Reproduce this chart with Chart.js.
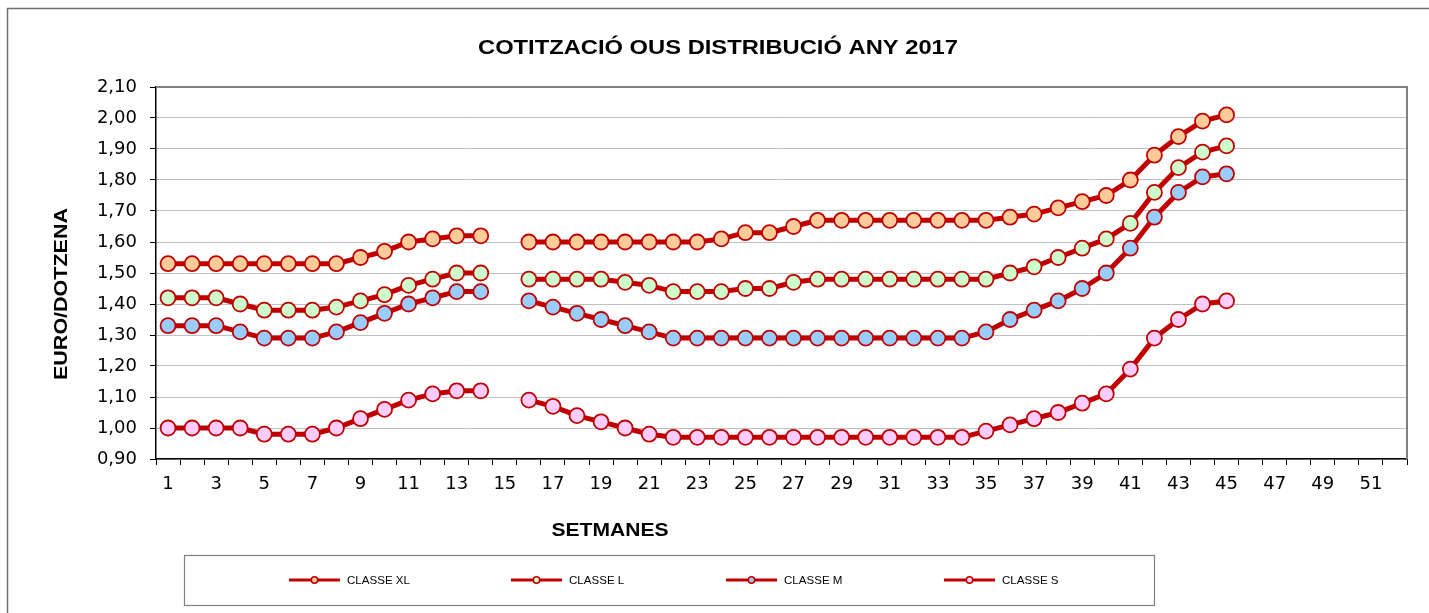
<!DOCTYPE html>
<html>
<head>
<meta charset="utf-8">
<script src="https://cdn.jsdelivr.net/npm/chart.js@4.4.1/dist/chart.umd.min.js"></script>
<style>
  html, body { margin: 0; padding: 0; background: #ffffff; }
  #wrap { position: relative; width: 1429px; height: 613px; overflow: hidden; }
  canvas { display: block; }
</style>
</head>
<body>
<div id="wrap"><canvas id="c" width="1429" height="613"></canvas></div>
<script>
// ---- DATA ----
const chartTitle = "COTITZACIÓ OUS DISTRIBUCIÓ ANY 2017";
const yTitle = "EURO/DOTZENA";
const xTitle = "SETMANES";
const weeks = ["1","2","3","4","5","6","7","8","9","10","11","12","13","14","15","16","17","18","19","20",
  "21","22","23","24","25","26","27","28","29","30","31","32","33","34","35","36","37","38","39","40",
  "41","42","43","44","45","46","47","48","49","50","51","52"];
const seriesNames = ["CLASSE XL", "CLASSE L", "CLASSE M", "CLASSE S"];
const classeXL = [1.53,1.53,1.53,1.53,1.53,1.53,1.53,1.53,1.55,1.57,1.60,1.61,1.62,1.62,null,
  1.60,1.60,1.60,1.60,1.60,1.60,1.60,1.60,1.61,1.63,1.63,1.65,1.67,1.67,1.67,1.67,1.67,1.67,1.67,1.67,
  1.68,1.69,1.71,1.73,1.75,1.80,1.88,1.94,1.99,2.01];
const classeL = [1.42,1.42,1.42,1.40,1.38,1.38,1.38,1.39,1.41,1.43,1.46,1.48,1.50,1.50,null,
  1.48,1.48,1.48,1.48,1.47,1.46,1.44,1.44,1.44,1.45,1.45,1.47,1.48,1.48,1.48,1.48,1.48,1.48,1.48,1.48,
  1.50,1.52,1.55,1.58,1.61,1.66,1.76,1.84,1.89,1.91];
const classeM = [1.33,1.33,1.33,1.31,1.29,1.29,1.29,1.31,1.34,1.37,1.40,1.42,1.44,1.44,null,
  1.41,1.39,1.37,1.35,1.33,1.31,1.29,1.29,1.29,1.29,1.29,1.29,1.29,1.29,1.29,1.29,1.29,1.29,1.29,
  1.31,1.35,1.38,1.41,1.45,1.50,1.58,1.68,1.76,1.81,1.82];
const classeS = [1.00,1.00,1.00,1.00,0.98,0.98,0.98,1.00,1.03,1.06,1.09,1.11,1.12,1.12,null,
  1.09,1.07,1.04,1.02,1.00,0.98,0.97,0.97,0.97,0.97,0.97,0.97,0.97,0.97,0.97,0.97,0.97,0.97,0.97,
  0.99,1.01,1.03,1.05,1.08,1.11,1.19,1.29,1.35,1.40,1.41];
const yMin = 0.9, yMax = 2.1, yStep = 0.1;

// ---- STYLE ----
const lineRed = "#c00000";
const fills = ["#ffcc99", "#ccffcc", "#99ccff", "#ffccff"];
const FONT = "Arial, 'Liberation Sans', sans-serif";
const TICKFONT = "'DejaVu Sans', Arial, sans-serif";

function makeDs(label, data, fill) {
  return {
    label, data,
    borderColor: lineRed, borderWidth: 5,
    pointRadius: 7.5, pointHoverRadius: 7.5,
    pointBackgroundColor: fill, pointBorderColor: lineRed, pointBorderWidth: 1.8,
    spanGaps: false, tension: 0, fill: false
  };
}

// draw text stretched horizontally to a target width (the reference text is wide)
function fitText(ctx, text, cx, cy, targetW) {
  const w = ctx.measureText(text).width;
  const sx = targetW / w;
  ctx.save();
  ctx.translate(cx, cy);
  ctx.scale(sx, 1);
  ctx.fillText(text, 0, 0);
  ctx.restore();
}

const decorPlugin = {
  id: 'decor',
  beforeDraw(chart) {
    const ctx = chart.ctx;
    ctx.save();
    ctx.fillStyle = '#ffffff';
    ctx.fillRect(0, 0, chart.width, chart.height);
    ctx.strokeStyle = '#6e6e6e';
    ctx.lineWidth = 1.5;
    ctx.strokeRect(7.5, 8.5, 1440, 640);
    ctx.restore();
  },
  afterDraw(chart) {
    const ctx = chart.ctx;
    const a = chart.chartArea;
    ctx.save();
    ctx.strokeStyle = '#808080';
    ctx.lineWidth = 2;
    ctx.beginPath();
    ctx.moveTo(a.left, a.top);
    ctx.lineTo(a.right, a.top);
    ctx.lineTo(a.right, a.bottom);
    ctx.stroke();

    ctx.fillStyle = '#000000';
    ctx.textAlign = 'center';
    ctx.textBaseline = 'middle';
    ctx.font = "bold 20px " + FONT;
    fitText(ctx, chartTitle, 718, 48, 480);
    ctx.font = "bold 18px " + FONT;
    fitText(ctx, xTitle, 610, 531, 117);
    ctx.save();
    ctx.translate(62, 294);
    ctx.rotate(-Math.PI / 2);
    fitText(ctx, yTitle, 0, 0, 172);
    ctx.restore();

    // legend
    ctx.strokeStyle = '#808080';
    ctx.lineWidth = 1.2;
    ctx.strokeRect(184.5, 555.5, 970, 50);
    const starts = [289, 511, 726, 944];
    const cy = 580;
    ctx.font = "11px " + FONT;
    chart.data.datasets.forEach((ds, i) => {
      const x0 = starts[i];
      ctx.strokeStyle = ds.borderColor;
      ctx.lineWidth = 3;
      ctx.beginPath();
      ctx.moveTo(x0, cy);
      ctx.lineTo(x0 + 51, cy);
      ctx.stroke();
      ctx.beginPath();
      ctx.arc(x0 + 25.5, cy, 3.2, 0, Math.PI * 2);
      ctx.fillStyle = ds.pointBackgroundColor;
      ctx.fill();
      ctx.lineWidth = 1.5;
      ctx.strokeStyle = ds.borderColor;
      ctx.stroke();
      ctx.fillStyle = '#000000';
      ctx.textAlign = 'center';
      const tw = ctx.measureText(ds.label).width * 1.05;
      fitText(ctx, ds.label, x0 + 58 + tw / 2, cy + 0.5, tw);
    });
    ctx.restore();
  }
};

new Chart(document.getElementById('c'), {
  type: 'line',
  data: {
    labels: weeks,
    datasets: [
      makeDs(seriesNames[0], classeXL, fills[0]),
      makeDs(seriesNames[1], classeL, fills[1]),
      makeDs(seriesNames[2], classeM, fills[2]),
      makeDs(seriesNames[3], classeS, fills[3])
    ]
  },
  options: {
    responsive: false,
    animation: false,
    events: [],
    layout: { padding: { left: 0, top: 87, right: 22, bottom: 0 } },
    plugins: {
      legend: { display: false },
      title: { display: false },
      tooltip: { enabled: false }
    },
    scales: {
      x: {
        type: 'category',
        offset: true,
        afterFit(scale) { scale.height = 154; },
        grid: {
          offset: true,
          drawOnChartArea: false,
          drawTicks: true,
          tickLength: 6,
          tickColor: '#000000',
          tickWidth: 1
        },
        border: { color: '#000000', width: 1.5 },
        ticks: {
          autoSkip: false,
          maxRotation: 0,
          minRotation: 0,
          padding: 9,
          color: '#000000',
          font: { family: TICKFONT, size: 18 },
          callback(v, i) { return i % 2 === 0 ? weeks[i] : ''; }
        }
      },
      y: {
        min: yMin, max: yMax,
        afterFit(scale) { scale.width = 156; },
        grid: {
          color: '#c0c0c0',
          lineWidth: 1,
          tickLength: 6,
          tickColor: '#000000',
          drawTicks: true
        },
        border: { color: '#000000', width: 1.5 },
        ticks: {
          stepSize: yStep,
          padding: 13,
          color: '#000000',
          font: { family: TICKFONT, size: 18 },
          callback(v) { return Number(v).toFixed(2).replace('.', ','); }
        }
      }
    }
  },
  plugins: [decorPlugin]
});
</script>
</body>
</html>
